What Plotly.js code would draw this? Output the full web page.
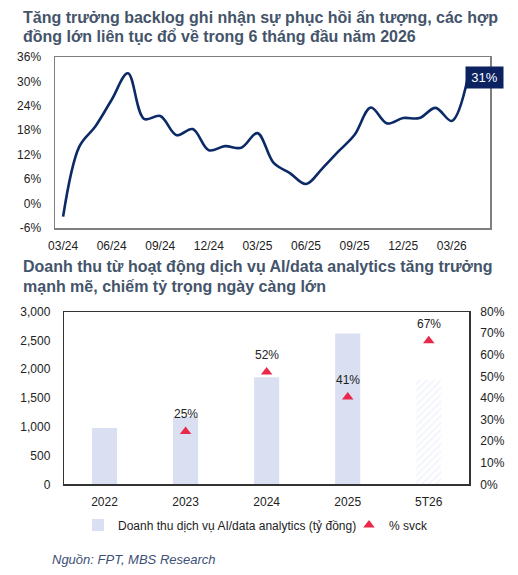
<!DOCTYPE html>
<html>
<head>
<meta charset="utf-8">
<script src="https://cdn.plot.ly/plotly-3.0.1.min.js"></script>
<style>html,body{margin:0;padding:0;background:#fff;}#chart{width:518px;height:575px;}</style>
</head>
<body>
<div id="chart"></div>
<script>
// ---- Top chart data: backlog growth (% yoy), monthly ----
var months = ["03/24","04/24","05/24","06/24","07/24","08/24","09/24","10/24","11/24","12/24",
              "01/25","02/25","03/25","04/25","05/25","06/25","07/25","08/25","09/25","10/25",
              "11/25","12/25","01/26","02/26","03/26","04/26"];
var backlogGrowth = [-3.2, 14, 19, 25.5, 32, 20.8, 21.5, 16.8, 18.3, 13.1,
                     14.1, 13.7, 17.3, 10, 7.5, 4.8, 8.6, 12.8, 16.9, 23.6,
                     19.7, 21, 21, 23.5, 20.3, 31];
var topTickVals = [-6, 0, 6, 12, 18, 24, 30, 36];
var topTickText = ["-6%","0%","6%","12%","18%","24%","30%","36%"];
var lastLabel = "31%";

// ---- Bottom chart data ----
var years = ["2022","2023","2024","2025","5T26"];
var aiRevenue = [980, 1180, 1860, 2620, 1820];
var aiGrowth = [null, 0.245, 0.52, 0.405, 0.665];
var aiGrowthLabels = ["", "25%", "52%", "41%", "67%"];

var topTitleLines = ["Tăng trưởng backlog ghi nhận sự phục hồi ấn tượng, các hợp",
                     "đồng lớn liên tục đổ về trong 6 tháng đầu năm 2026"];
var bottomTitleLines = ["Doanh thu từ hoạt động dịch vụ AI/data analytics tăng trưởng",
                        "mạnh mẽ, chiếm tỷ trọng ngày càng lớn"];

var W = 518, H = 575;
function px(x){ return x / W; }
function py(y){ return 1 - y / H; }

var FONT = "Liberation Sans, Arial, sans-serif";
var TITLE_COLOR = "#44546a";

var traces = [
  {
    type: "scatter", mode: "lines",
    x: months, y: backlogGrowth,
    xaxis: "x", yaxis: "y",
    line: {color: "#0b2a66", width: 2.6, shape: "spline", smoothing: 1},
    showlegend: false, hoverinfo: "skip"
  },
  {
    type: "bar",
    x: years, y: aiRevenue,
    xaxis: "x2", yaxis: "y2",
    name: "Doanh thu dịch vụ AI/data analytics (tỷ đồng)",
    legend: "legend",
    width: 0.31,
    marker: {
      color: ["#dae0f2","#dae0f2","#dae0f2","#dae0f2","#f4f6fc"],
      line: {width: 0},
      pattern: {
        shape: ["","","","","/"], fillmode: "replace",
        fgcolor: ["#dae0f2","#dae0f2","#dae0f2","#dae0f2","#d9e0f3"],
        bgcolor: ["#dae0f2","#dae0f2","#dae0f2","#dae0f2","#f4f6fc"],
        size: 5, solidity: 0.45
      }
    },
    hoverinfo: "skip"
  },
  {
    type: "scatter", mode: "markers",
    x: years, y: aiGrowth,
    xaxis: "x2", yaxis: "y3",
    name: "% svck",
    legend: "legend2",
    marker: {symbol: "triangle-up", size: 10, color: "#e8294b"},
    hoverinfo: "skip"
  }
];

var annotations = [];
[[topTitleLines, 17], [bottomTitleLines, 266.7]].forEach(function(t){
  t[0].forEach(function(line, k){
    annotations.push({
      xref: "paper", yref: "paper", x: px(21), y: py(t[1] + k * 19.5),
      xanchor: "left", yanchor: "middle", align: "left", showarrow: false,
      text: "<b>" + line + "</b>",
      font: {family: FONT, size: 16, color: TITLE_COLOR}
    });
  });
});
annotations.push({
  xref: "x", yref: "y", x: months.length - 1, y: backlogGrowth[backlogGrowth.length - 1],
  xanchor: "left", yanchor: "middle", xshift: -3, showarrow: false,
  text: lastLabel, bgcolor: "#0b2160", width: 35, height: 19,
  font: {family: FONT, size: 13, color: "#ffffff"}
});
annotations.push({
  xref: "paper", yref: "paper", x: px(50), y: py(559),
  xanchor: "left", yanchor: "middle", showarrow: false,
  text: "<i>Nguồn: FPT, MBS Research</i>",
  font: {family: FONT, size: 13, color: "#3c5077"}
});
years.forEach(function(cat, i){
  if (aiGrowth[i] !== null) {
    annotations.push({
      xref: "x2", yref: "y3", x: i, y: aiGrowth[i],
      yanchor: "bottom", yshift: 8, showarrow: false,
      text: aiGrowthLabels[i],
      font: {family: FONT, size: 12, color: "#222"}
    });
  }
});

var tickFont = {family: FONT, size: 12, color: "#222"};
var legendFont = {family: FONT, size: 12, color: "#222"};

var layout = {
  width: W, height: H,
  margin: {l: 0, r: 0, t: 0, b: 0},
  paper_bgcolor: "#ffffff", plot_bgcolor: "#ffffff",
  font: {family: FONT, size: 12, color: "#222"},
  xaxis: {
    domain: [px(55), px(490)], anchor: "y",
    type: "category", range: [-0.5, 26.36],
    tickmode: "array",
    tickvals: months.filter(function(m, i){ return i % 3 === 0; }),
    ticktext: months.filter(function(m, i){ return i % 3 === 0; }),
    showgrid: false, zeroline: false, ticks: "", ticklabelstandoff: 6,
    showline: true, mirror: true, linecolor: "#7f7f7f", linewidth: 1.5,
    tickfont: tickFont, fixedrange: true
  },
  yaxis: {
    domain: [py(228), py(57)], anchor: "x",
    range: [-6, 36], tickmode: "array", tickvals: topTickVals, ticktext: topTickText,
    showgrid: false, zeroline: false, ticks: "", ticklabelstandoff: 10,
    showline: true, mirror: true, linecolor: "#7f7f7f", linewidth: 1.5,
    tickfont: tickFont, fixedrange: true
  },
  xaxis2: {
    domain: [px(64), px(469.3)], anchor: "y2",
    type: "category", range: [-0.5, 4.5],
    showgrid: false, zeroline: false, ticks: "", ticklabelstandoff: 6,
    showline: true, mirror: true, linecolor: "#333333", linewidth: 1.2,
    tickfont: tickFont, fixedrange: true
  },
  yaxis2: {
    domain: [py(484.3), py(311.7)], anchor: "x2",
    range: [0, 3000], dtick: 500, tickformat: ",",
    showgrid: false, zeroline: false, ticks: "", ticklabelstandoff: 10,
    showline: true, mirror: true, linecolor: "#333333", linewidth: 1.2,
    tickfont: tickFont, fixedrange: true
  },
  yaxis3: {
    overlaying: "y2", side: "right", anchor: "x2",
    range: [0, 0.8], dtick: 0.1, tickformat: ".0%",
    showgrid: false, zeroline: false, ticks: "", ticklabelstandoff: 10,
    showline: false, tickfont: tickFont, fixedrange: true
  },
  showlegend: true,
  legend: {
    orientation: "h", x: px(78), y: py(525), xanchor: "left", yanchor: "middle",
    font: legendFont, itemwidth: 30, bgcolor: "rgba(0,0,0,0)"
  },
  legend2: {
    orientation: "h", x: px(349), y: py(525), xanchor: "left", yanchor: "middle",
    font: legendFont, itemwidth: 30, bgcolor: "rgba(0,0,0,0)"
  },
  annotations: annotations
};

Plotly.newPlot("chart", traces, layout, {displayModeBar: false, staticPlot: true});
</script>
</body>
</html>
